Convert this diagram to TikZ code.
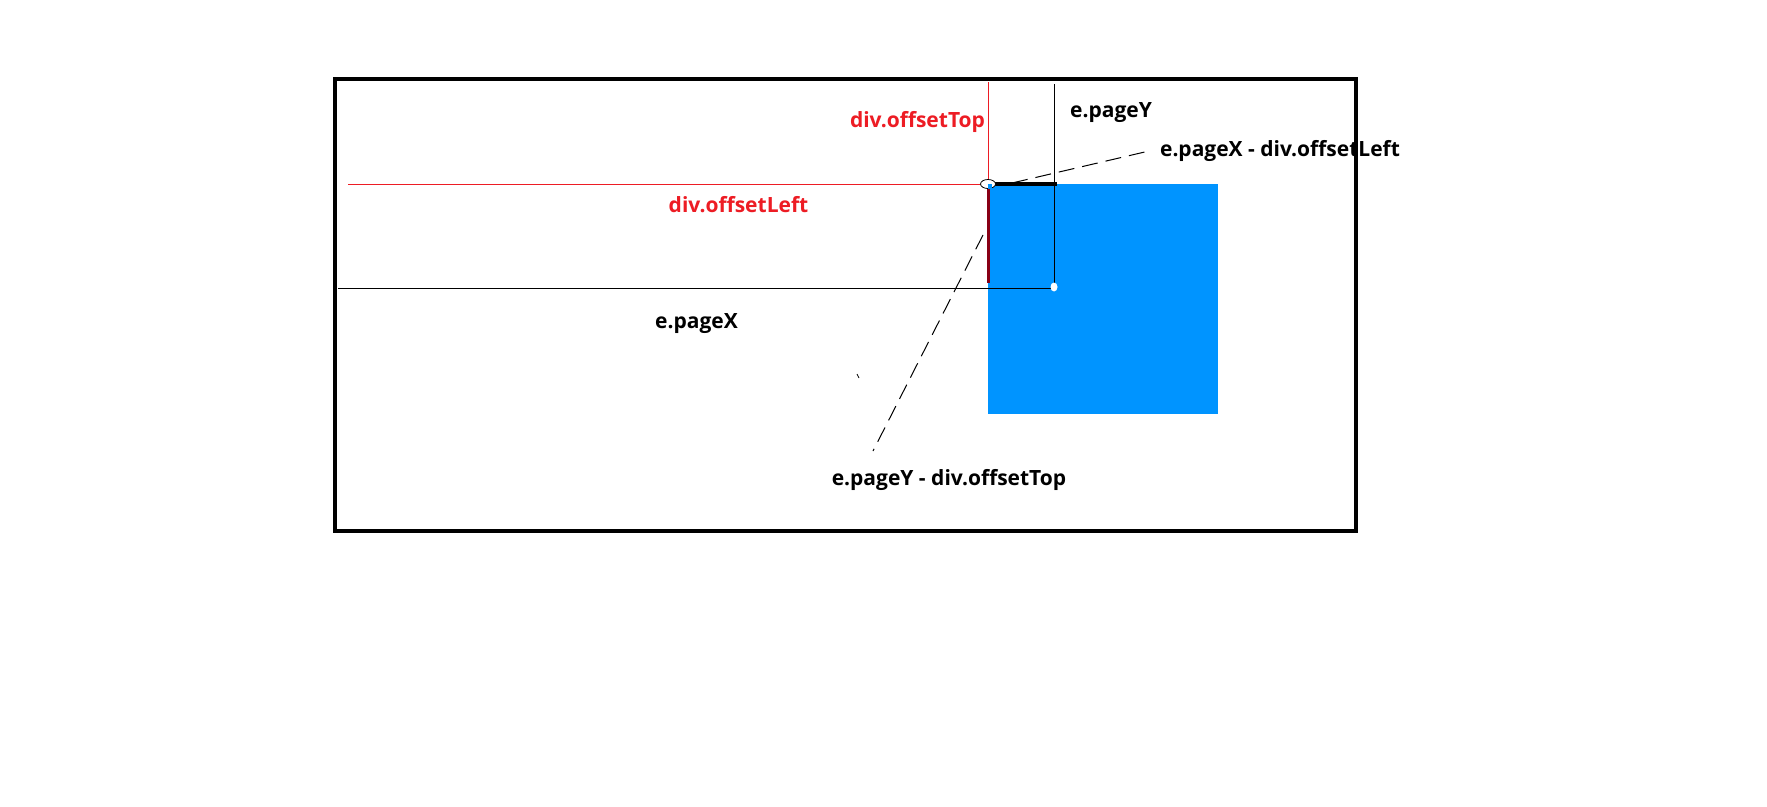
\documentclass[tikz,border=0pt]{standalone}
\usepackage{fontspec}
\setmainfont{Open Sans}
\definecolor{boxblue}{RGB}{0,148,255}
\definecolor{pred}{RGB}{237,28,36}
\definecolor{dred}{RGB}{136,0,21}
\tikzset{
  lbl/.style={font=\bfseries\fontsize{21}{24}\selectfont, inner sep=0pt, text=black},
  rlbl/.style={lbl, text=pred},
  thinline/.style={line width=1pt},
  dashline/.style={line width=1pt, dash pattern=on 16pt off 8pt},
}
\begin{document}
\begin{tikzpicture}[x=1pt,y=-1pt]
\useasboundingbox (0,0) rectangle (1767,806);
\fill[white] (0,0) rectangle (1767,806);
% frame
\draw[line width=4.5pt] (335,79) rectangle (1356,531);
% blue div
\fill[boxblue] (988,184) rectangle (1218,414);
% coordinates
\coordinate (rtop) at (988,82);
\coordinate (corner) at (988,184);
\coordinate (rleft) at (348,184);
\coordinate (ytop) at (1054,84);
\coordinate (mouse) at (1054,287);
\coordinate (xleft) at (338,288);
\coordinate (xend) at (1051,288);
% red guide lines
\draw[pred, thinline] (rtop) -- (corner);
\draw[pred, thinline] (rleft) -- (corner);
% black guide lines
\draw[thinline] (ytop) -- (mouse);
\draw[thinline] (xleft) -- (xend);
% thick segments
\coordinate (hs) at (992,184);
\coordinate (he) at (1057,184);
\draw[line width=3.5pt] (hs) -- (he);
\coordinate (vs) at (988,189);
\coordinate (ve) at (988,283);
\draw[dred, line width=3pt] (vs) -- (ve);
% small marks
\draw[line width=0.8pt, fill=white] (corner) ellipse [x radius=7.5pt, y radius=4.5pt];
\fill[boxblue] (988,184) rectangle (992,189);
\fill[white] (mouse) ellipse [x radius=3.5pt, y radius=4.5pt];
% labels
\node[rlbl] (offtop) at (917.5,122) {div.offsetTop};
\node[rlbl] (offleft) at (738.5,205) {div.offsetLeft};
\node[lbl] (pagey) at (1111,113) {e.pageY};
\node[lbl] (pagex) at (696.5,324) {e.pageX};
\node[lbl] (diffx) at (1280,151) {e.pageX - div.offsetLeft};
\node[lbl] (diffy) at (949,480) {e.pageY - div.offsetTop};
% dashed leaders
\coordinate (dxa) at (1012,183);
\coordinate (dxb) at (1149,151);
\draw[dashline] (dxa) -- (dxb);
\coordinate (dya) at (983,235);
\coordinate (dyb) at (873,451);
\draw[dashline] (dya) -- (dyb);
% stray tick
\coordinate (ta) at (857,374);
\coordinate (tb) at (859,378);
\draw[line width=0.8pt] (ta) -- (tb);
\end{tikzpicture}
\end{document}
